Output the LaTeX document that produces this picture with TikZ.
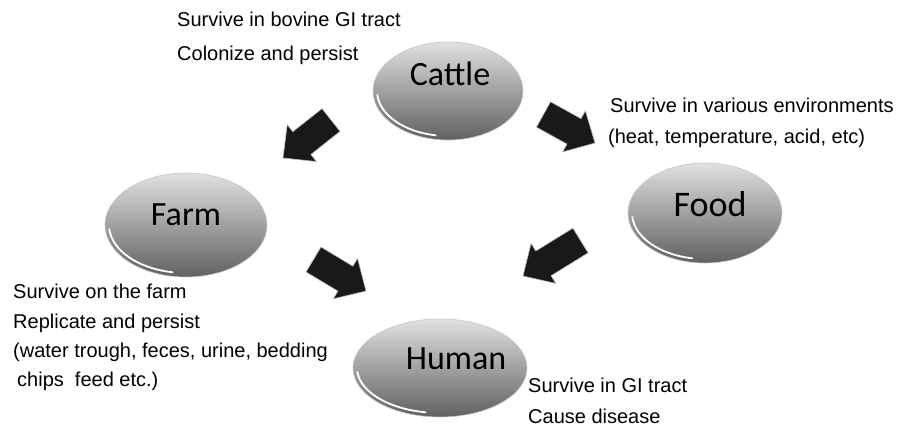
\documentclass[tikz,border=0pt]{standalone}
\usepackage{fontspec}
\setmainfont{Liberation Sans}
\newfontfamily\labfont{Carlito}
\usetikzlibrary{shapes.geometric,calc}
\newcommand{\blockarrow}[2]{%
  \coordinate (bb) at ($(#2)!24pt!(#1)$);
  \filldraw[arrowfill] ($(#1)!14.5pt!90:(#2)$) -- ($(bb)!14.5pt!90:(#2)$) -- ($(bb)!23.5pt!90:(#2)$) -- (#2) -- ($(bb)!23.5pt!-90:(#2)$) -- ($(bb)!14.5pt!-90:(#2)$) -- ($(#1)!14.5pt!-90:(#2)$) -- cycle;
}
\begin{document}
\begin{tikzpicture}[x=1pt,y=-1pt,
  blob/.style={ellipse, inner sep=0pt, draw=gray!45, line width=0.6pt, top color=black!12, bottom color=black!62},
  blobtext/.style={font=\labfont\fontsize{34}{40}\selectfont, text=black, inner sep=0pt},
  note/.style={font=\fontsize{20}{24}\selectfont, anchor=base west, inner sep=0pt},
  shine/.style={white, line width=1.8pt, line cap=round},
  arrowfill/.style={fill=black!90, draw=gray!55, line width=0.6pt, line join=miter}]
\useasboundingbox (0,0) rectangle (901,428);
\fill[white] (0,0) rectangle (901,428);

% ellipses
\node[blob, minimum width=150, minimum height=98] (cattle) at (448,91) {};
\node[blob, minimum width=162, minimum height=104] (farm) at (186,225) {};
\node[blob, minimum width=154, minimum height=100] (food) at (705,213) {};
\node[blob, minimum width=174, minimum height=98] (human) at (440,368) {};

\draw[shine] ($(cattle.center)+(175:71 and 45)$) arc[start angle=175, end angle=100, x radius=71, y radius=45];
\draw[shine] ($(farm.center)+(175:77 and 48)$) arc[start angle=175, end angle=100, x radius=77, y radius=48];
\draw[shine] ($(food.center)+(175:73 and 46)$) arc[start angle=175, end angle=100, x radius=73, y radius=46];
\draw[shine] ($(human.center)+(175:83 and 45)$) arc[start angle=175, end angle=100, x radius=83, y radius=45];

\node[blobtext] (cattleL) at (450,74) {Cattle};
\node[blobtext] (farmL) at (186,215) {Farm};
\node[blobtext, font=\labfont\fontsize{36}{40}\selectfont] (foodL) at (710,204) {Food};
\node[blobtext] (humanL) at (456,359) {Human};

% block arrows
\coordinate (a1t) at (331,120); \coordinate (a1h) at (283,158);
\coordinate (a2t) at (543.5,114.5); \coordinate (a2h) at (595,143);
\coordinate (a3t) at (313.5,259.5); \coordinate (a3h) at (366,291);
\coordinate (a4t) at (580.5,240.5); \coordinate (a4h) at (523,276);
\blockarrow{a1t}{a1h}
\blockarrow{a2t}{a2h}
\blockarrow{a3t}{a3h}
\blockarrow{a4t}{a4h}

% notes
\node[note] (c1) at (177,27) {Survive in bovine GI tract};
\node[note] (c2) at (177,60) {Colonize and persist};
\node[note] (f1) at (610,112) {Survive in various environments};
\node[note] (f2) at (608,143) {(heat, temperature, acid, etc)};
\node[note] (r1) at (13,298) {Survive on the farm};
\node[note] (r2) at (13,328) {Replicate and persist};
\node[note] (r3) at (13,357) {(water trough, feces, urine, bedding};
\node[note] (r4) at (17,386) {chips\ \ feed etc.)};
\node[note] (h1) at (528,392) {Survive in GI tract};
\node[note] (h2) at (528,423) {Cause disease};
\end{tikzpicture}
\end{document}
